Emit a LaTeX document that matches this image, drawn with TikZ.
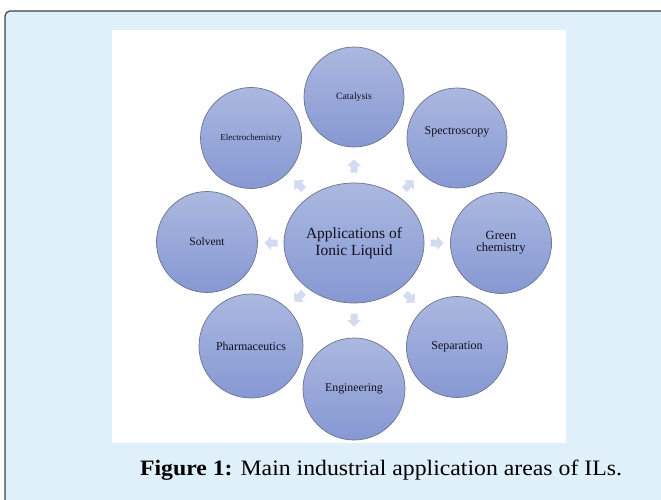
\documentclass[tikz,border=0pt]{standalone}
\usepackage{fontspec}
\setmainfont{Liberation Serif}
\usetikzlibrary{shapes.geometric}
\definecolor{framebg}{HTML}{DFF0FB}
\definecolor{frameline}{HTML}{3F4245}
\definecolor{ctop}{HTML}{ABB8E0}
\definecolor{cbot}{HTML}{8698D3}
\definecolor{cline}{HTML}{6D7488}
\definecolor{arrowc}{HTML}{D3DBF0}
\definecolor{txt}{HTML}{10101C}
\tikzset{
  bubble/.style={circle, minimum size=100pt, inner sep=0pt, top color=ctop, bottom color=cbot, draw=cline, line width=0.7pt, text=txt, font=\fontsize{12}{13}\selectfont, align=center},
  hub/.style={ellipse, minimum width=140pt, minimum height=120pt, inner sep=0pt, top color=ctop, bottom color=cbot, draw=cline, line width=0.7pt, text=txt, font=\fontsize{15.5}{17}\selectfont, align=center},
  barrow/.pic={\fill[arrowc] (-6.5,-3.5) -- (0,-3.5) -- (0,-7) -- (6.5,0) -- (0,7) -- (0,3.5) -- (-6.5,3.5) -- cycle;},
}
\begin{document}
\begin{tikzpicture}[x=1pt,y=-1pt]
\useasboundingbox (0,0) rectangle (661,500);
\begin{scope}
\clip (0,0) rectangle (661,500);
\fill[framebg, draw=frameline, line width=1.2pt, rounded corners=5pt] (5,11) rectangle (700,540);
\end{scope}
\fill[white] (112,30) rectangle (566,443);
% hub
\node[hub] (hub) at (354,243) {Applications of\\Ionic Liquid};
% bubbles
\node[bubble, font=\fontsize{9.7}{11}\selectfont] (cat) at (354,97) {Catalysis};
\node[bubble, font=\fontsize{12}{13}\selectfont] (spe) at (457,138) {\raisebox{15pt}{Spectroscopy}};
\node[bubble, font=\fontsize{12.5}{12}\selectfont, minimum size=101pt] (gre) at (501,243) {Green\\chemistry};
\node[bubble, font=\fontsize{12}{13}\selectfont, minimum size=101pt] (sep) at (457,347) {Separation};
\node[bubble, font=\fontsize{11.8}{13}\selectfont, minimum size=102pt] (eng) at (354,389) {Engineering};
\node[bubble, font=\fontsize{12}{13}\selectfont, minimum size=104pt] (pha) at (251,346) {Pharmaceutics};
\node[bubble, font=\fontsize{11.5}{13}\selectfont, minimum size=101pt] (sol) at (207,242) {Solvent};
\node[bubble, font=\fontsize{9}{10}\selectfont, minimum size=101pt] (ele) at (251,138) {Electrochemistry};
% arrows (page angles)
\pic[rotate=90] at (354,166) {barrow};
\pic[rotate=45] at (409,185) {barrow};
\pic[rotate=0] at (437,243) {barrow};
\pic[rotate=-45] at (410,298) {barrow};
\pic[rotate=-90] at (354,320) {barrow};
\pic[rotate=-135] at (299,297) {barrow};
\pic[rotate=180] at (271,243) {barrow};
\pic[rotate=135] at (299,185) {barrow};
% caption
\node[font=\fontsize{22}{24}\selectfont, text=black, xscale=1.08] (cap) at (381,470) {\textbf{Figure 1:} Main industrial application areas of ILs.};
\end{tikzpicture}
\end{document}
